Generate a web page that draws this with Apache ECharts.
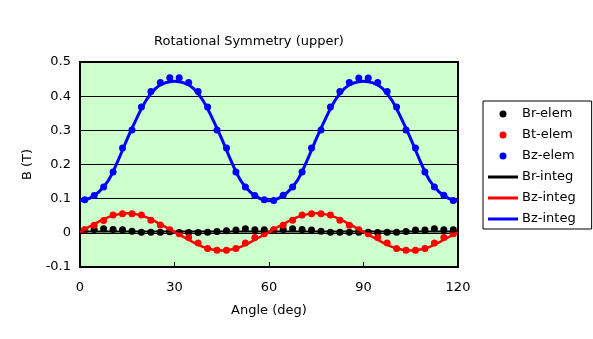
<!DOCTYPE html>
<html>
<head>
<meta charset="utf-8">
<style>
  html, body { margin: 0; padding: 0; background: #ffffff; }
  #chart { width: 593px; height: 339px; }
</style>
<script src="https://cdn.jsdelivr.net/npm/echarts@6/dist/echarts.min.js"></script>
</head>
<body>
<div id="chart"></div>
<script>
// Element-sampled angles (deg) for the scatter series
var elemAngles = [1.5, 4.5, 7.5, 10.5, 13.5, 16.5, 19.5, 22.5, 25.5, 28.5,
                  31.5, 34.5, 37.5, 40.5, 43.5, 46.5, 49.5, 52.5, 55.5, 58.5,
                  61.5, 64.5, 67.5, 70.5, 73.5, 76.5, 79.5, 82.5, 85.5, 88.5,
                  91.5, 94.5, 97.5, 100.5, 103.5, 106.5, 109.5, 112.5, 115.5, 118.5];

// Angles (deg) for the integrated curves
var integAngles = [0, 3, 6, 9, 12, 15, 18, 21, 24, 27,
                   30, 33, 36, 39, 42, 45, 48, 51, 54, 57,
                   60, 63, 66, 69, 72, 75, 78, 81, 84, 87,
                   90, 93, 96, 99, 102, 105, 108, 111, 114, 117, 120];

// Field components from the element method (T)
var brElem = [0.008, 0.010, 0.012, 0.010, 0.009, 0.005, 0.002, 0.002, 0.002, 0.003,
              0.001, 0.001, 0.001, 0.002, 0.004, 0.006, 0.008, 0.012, 0.009, 0.009,
              0.008, 0.010, 0.012, 0.010, 0.008, 0.005, 0.002, 0.002, 0.002, 0.002,
              0.002, 0.001, 0.002, 0.002, 0.004, 0.008, 0.008, 0.012, 0.009, 0.009];

var btElem = [0.009, 0.022, 0.036, 0.052, 0.056, 0.056, 0.052, 0.037, 0.023, 0.009,
              -0.003, -0.014, -0.030, -0.046, -0.051, -0.051, -0.046, -0.030, -0.014, -0.003,
              0.009, 0.022, 0.037, 0.052, 0.056, 0.056, 0.052, 0.037, 0.022, 0.009,
              -0.003, -0.014, -0.030, -0.046, -0.051, -0.051, -0.046, -0.030, -0.014, -0.003];

var bzElem = [0.097, 0.109, 0.134, 0.178, 0.248, 0.301, 0.368, 0.414, 0.440, 0.454,
              0.454, 0.440, 0.414, 0.368, 0.301, 0.248, 0.178, 0.134, 0.109, 0.097,
              0.095, 0.110, 0.134, 0.178, 0.248, 0.301, 0.368, 0.414, 0.440, 0.453,
              0.453, 0.440, 0.414, 0.368, 0.301, 0.248, 0.178, 0.134, 0.110, 0.095];

// Field components from the integral method (T)
var brInteg = [0.004, 0.004, 0.004, 0.004, 0.004, 0.004, 0.004, 0.004, 0.004, 0.004,
               0.004, 0.004, 0.004, 0.004, 0.004, 0.004, 0.004, 0.004, 0.004, 0.004,
               0.004, 0.004, 0.004, 0.004, 0.004, 0.004, 0.004, 0.004, 0.004, 0.004,
               0.004, 0.004, 0.004, 0.004, 0.004, 0.004, 0.004, 0.004, 0.004, 0.004, 0.004];

var btInteg = [0.002, 0.018, 0.033, 0.046, 0.054, 0.057, 0.054, 0.046, 0.033, 0.018,
               0.002, -0.013, -0.028, -0.041, -0.049, -0.052, -0.049, -0.041, -0.028, -0.013,
               0.002, 0.018, 0.033, 0.046, 0.054, 0.057, 0.054, 0.046, 0.033, 0.018,
               0.002, -0.013, -0.028, -0.041, -0.049, -0.052, -0.049, -0.041, -0.028, -0.013, 0.002];

var bzInteg = [0.094, 0.101, 0.120, 0.153, 0.210, 0.275, 0.335, 0.388, 0.423, 0.439,
               0.444, 0.439, 0.423, 0.388, 0.335, 0.275, 0.210, 0.153, 0.120, 0.101,
               0.094, 0.101, 0.120, 0.153, 0.210, 0.275, 0.335, 0.388, 0.423, 0.439,
               0.444, 0.439, 0.423, 0.388, 0.335, 0.275, 0.210, 0.153, 0.120, 0.101, 0.094];

var seriesNames = ['Br-elem', 'Bt-elem', 'Bz-elem', 'Br-integ', 'Bz-integ', 'Bz-integ '];
var seriesColors = ['#000000', '#ff0000', '#0000ff', '#000000', '#ff0000', '#0000ff'];

var FONT = '"DejaVu Sans", sans-serif';
// thin horizontal bar used as the legend key for the curves
var LINE_KEY = 'path://M0,0H30V3H0Z';

function pairs(xs, ys) {
  return xs.map(function (x, i) { return [x, ys[i]]; });
}

function scatterSeries(idx, ys) {
  return {
    name: seriesNames[idx],
    type: 'scatter',
    data: pairs(elemAngles, ys),
    symbol: 'circle',
    symbolSize: 7,
    itemStyle: { color: seriesColors[idx], opacity: 1 },
    emphasis: { disabled: true },
    z: 3
  };
}

function lineSeries(idx, ys, width) {
  return {
    name: seriesNames[idx],
    type: 'line',
    data: pairs(integAngles, ys),
    smooth: 0.4,
    showSymbol: false,
    symbol: 'none',
    lineStyle: { color: seriesColors[idx], width: width },
    itemStyle: { color: seriesColors[idx] },
    emphasis: { disabled: true },
    z: 4
  };
}

var chart = echarts.init(document.getElementById('chart'), null, { renderer: 'canvas' });

chart.setOption({
  animation: false,
  backgroundColor: '#ffffff',
  title: {
    text: 'Rotational Symmetry (upper)',
    left: 244,
    top: 30,
    textAlign: 'center',
    textStyle: { fontFamily: FONT, fontSize: 13, fontWeight: 'normal', color: '#000' }
  },
  grid: {
    left: 80, top: 62, width: 378, height: 205,
    show: true,
    backgroundColor: '#ccffcc',
    borderColor: '#000000',
    borderWidth: 2,
    containLabel: false
  },
  legend: {
    orient: 'vertical',
    left: 483,
    top: 101,
    padding: [6, 16, 3, 5],
    itemWidth: 30,
    itemHeight: 7,
    itemGap: 7,
    symbolKeepAspect: true,
    backgroundColor: '#ffffff',
    borderColor: '#000000',
    borderWidth: 1,
    borderRadius: 0,
    selectedMode: false,
    textStyle: { fontFamily: FONT, fontSize: 13, color: '#000', lineHeight: 14, padding: [0, 0, 0, -1] },
    data: seriesNames.map(function (n, i) {
      return i < 3
        ? { name: n, icon: 'circle' }
        : { name: n, icon: LINE_KEY, itemStyle: { color: seriesColors[i] } };
    }),
    formatter: function (n) { return n.trim(); }
  },
  xAxis: {
    type: 'value',
    min: 0, max: 120, interval: 30,
    name: 'Angle (deg)',
    nameLocation: 'middle',
    nameGap: 37,
    nameTextStyle: { fontFamily: FONT, fontSize: 13, color: '#000' },
    axisLine: { onZero: false, lineStyle: { color: '#000', width: 2 } },
    axisTick: { inside: true, length: 5, lineStyle: { color: '#000', width: 1 } },
    axisLabel: { margin: 14, fontFamily: FONT, fontSize: 13, color: '#000' },
    splitLine: { show: false }
  },
  yAxis: {
    type: 'value',
    min: -0.1, max: 0.5, interval: 0.1,
    name: 'B (T)',
    nameLocation: 'middle',
    nameGap: 46,
    nameRotate: 90,
    nameTextStyle: { fontFamily: FONT, fontSize: 13, color: '#000' },
    axisLine: { show: true, lineStyle: { color: '#000', width: 2 } },
    axisTick: { show: false },
    axisLabel: {
      margin: 9, fontFamily: FONT, fontSize: 13, color: '#000',
      formatter: function (v) { return String(Math.round(v * 10) / 10); }
    },
    splitLine: { show: true, lineStyle: { color: '#000', width: 1 } }
  },
  series: [
    scatterSeries(0, brElem),
    scatterSeries(1, btElem),
    scatterSeries(2, bzElem),
    lineSeries(3, brInteg, 2),
    lineSeries(4, btInteg, 2.5),
    lineSeries(5, bzInteg, 3)
  ]
});
</script>
</body>
</html>
